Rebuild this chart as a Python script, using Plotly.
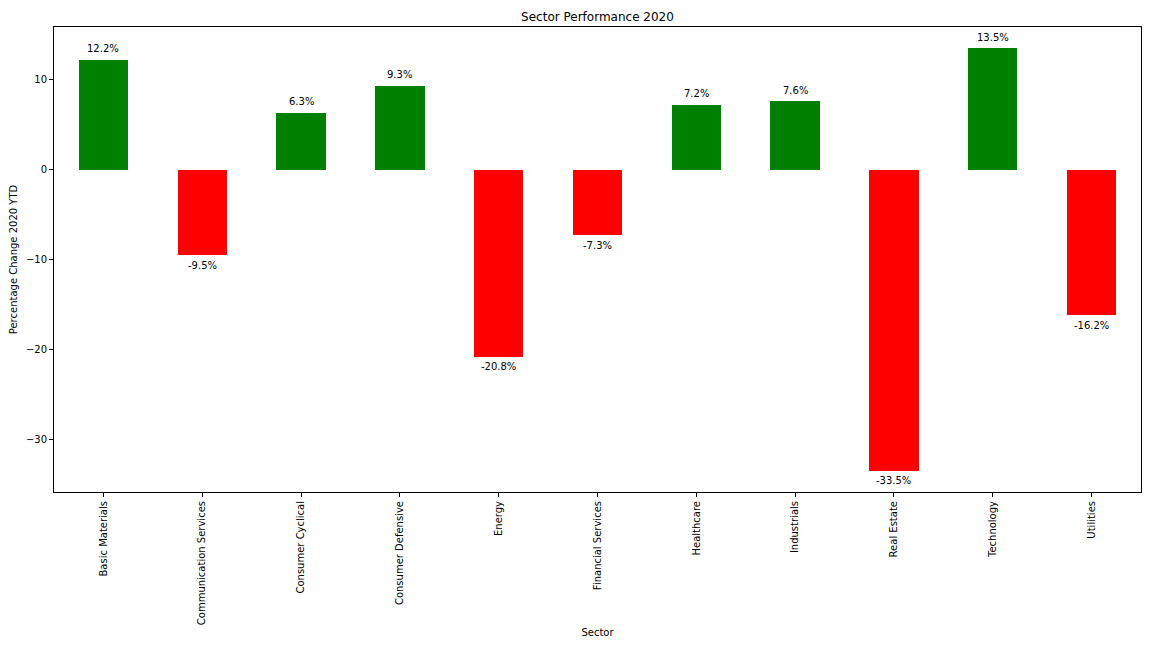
import plotly.graph_objects as go

sectors = ['Basic Materials', 'Communication Services', 'Consumer Cyclical',
           'Consumer Defensive', 'Energy', 'Financial Services', 'Healthcare',
           'Industrials', 'Real Estate', 'Technology', 'Utilities']
pct_change = [12.2, -9.5, 6.3, 9.3, -20.8, -7.3, 7.2, 7.6, -33.5, 13.5, -16.2]

colors = ['green' if v > 0 else 'red' for v in pct_change]

fig = go.Figure(go.Bar(x=list(range(len(sectors))), y=pct_change,
                       marker=dict(color=colors, line=dict(width=0)),
                       width=0.5))

for i, v in enumerate(pct_change):
    fig.add_annotation(x=i, y=v, text='%.1f%%' % v, showarrow=False,
                       yshift=11 if v > 0 else -10,
                       font=dict(size=10, color='black'))

# page body adds an 8px margin, so the figure is 8px smaller each way
fig.update_layout(
    width=1144, height=640,
    paper_bgcolor='white', plot_bgcolor='white',
    margin=dict(l=46, r=11, t=19, b=156),
    font=dict(family='DejaVu Sans', size=10, color='black'),
    title=dict(text='Sector Performance 2020', x=0.5, xanchor='center',
               xref='paper', y=1 - 9 / 640, yanchor='middle',
               font=dict(size=12)),
    showlegend=False,
    bargap=0,
)
fig.update_xaxes(
    range=[-0.5, len(sectors) - 0.5],
    tickmode='array', tickvals=list(range(len(sectors))), ticktext=sectors,
    tickangle=-90, ticks='outside', ticklen=4, tickcolor='black',
    showline=True, linecolor='black', linewidth=1, mirror=True,
    showgrid=False, zeroline=False, automargin=False,
    title=dict(text='Sector', standoff=4, font=dict(size=10)),
)
fig.update_yaxes(
    range=[-35.85, 15.85],
    tickvals=[-30, -20, -10, 0, 10],
    ticks='outside', ticklen=4, tickcolor='black',
    showline=True, linecolor='black', linewidth=1, mirror=True,
    showgrid=False, zeroline=False, automargin=False,
    title=dict(text='Percentage Change 2020 YTD', standoff=6,
               font=dict(size=10)),
)

fig.write_html('out.html')
